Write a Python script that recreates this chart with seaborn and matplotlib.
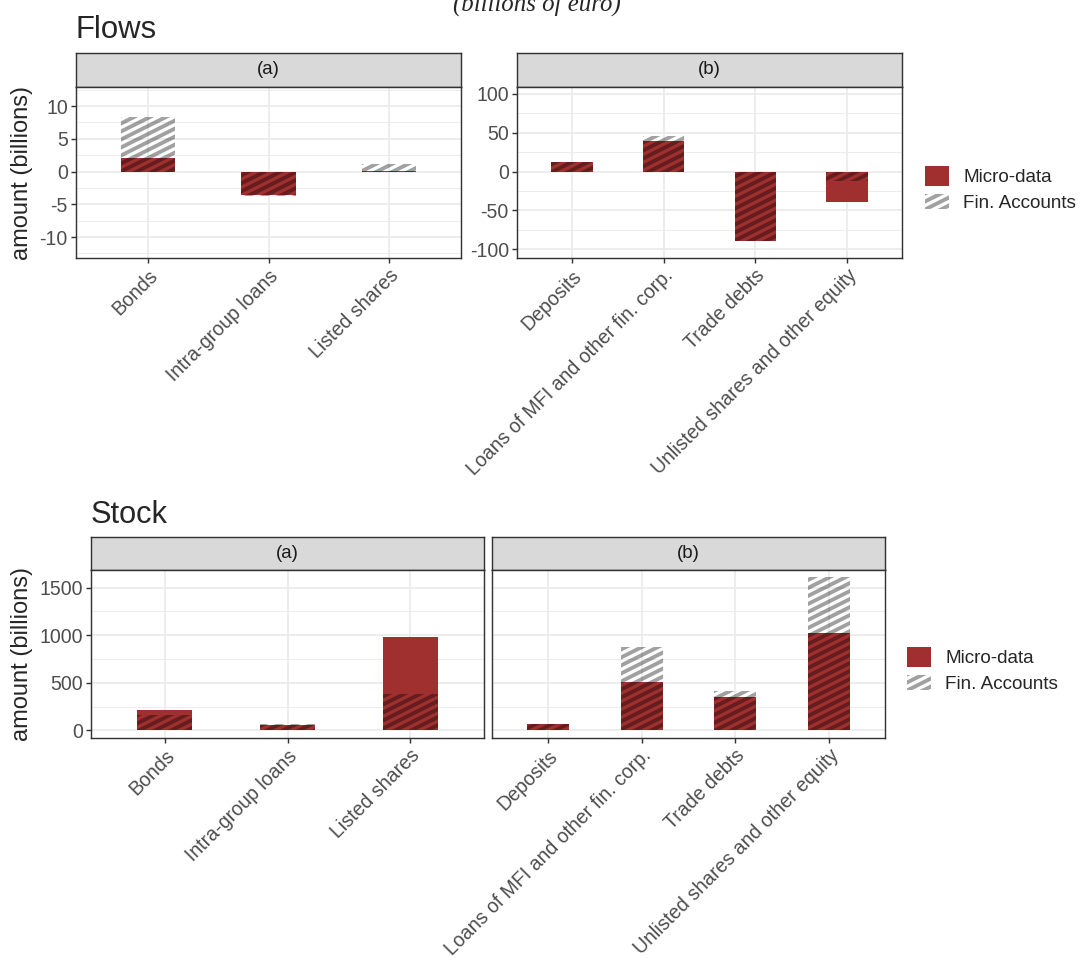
import numpy as np
import matplotlib
matplotlib.use("Agg")
import matplotlib.pyplot as plt
from matplotlib import hatch as mhatch
from matplotlib.path import Path
from matplotlib.patches import Patch, Rectangle
from matplotlib.legend_handler import HandlerPatch
import seaborn as sns

# categories
cats_a = ["Bonds", "Intra-group loans", "Listed shares"]
cats_b = ["Deposits", "Loans of MFI and other fin. corp.", "Trade debts",
          "Unlisted shares and other equity"]

# flows (billions)
flow_micro_a = [2.0, -3.6, 0.15]
flow_fin_a = [8.3, -3.7, 1.2]
flow_micro_b = [12.5, 39, -89, -39.5]
flow_fin_b = [12.5, 46, -89, -12]

# stocks (billions)
stock_micro_a = [211, 60, 983]
stock_fin_a = [158, 62, 379]
stock_micro_b = [70, 513, 348, 1026]
stock_fin_b = [70, 878, 418, 1616]

series_labels = ["Micro-data", "Fin. Accounts"]

RED = "#A0302F"
STRIPE = (0, 0, 0, 0.37)
GRID = "#EBEBEB"
DARK = "#333333"
HATCH = "/"


# shallow stripes (slope 1/2) instead of the 45 degree "/" hatch
class ShallowStripes(mhatch.HatchPatternBase):
    def __init__(self, hatch, density):
        self.offsets = np.arange(-8, 17) / 16.0
        self.num_vertices = 2 * len(self.offsets) if "/" in hatch else 0

    def set_vertices_and_codes(self, vertices, codes):
        vertices[0::2, 0] = 0.0
        vertices[0::2, 1] = self.offsets
        vertices[1::2, 0] = 1.0
        vertices[1::2, 1] = self.offsets + 0.5
        codes[0::2] = Path.MOVETO
        codes[1::2] = Path.LINETO


mhatch._hatch_types[mhatch._hatch_types.index(mhatch.NorthEastHatch)] = ShallowStripes

sns.set_theme(style="white")
plt.rcParams["font.family"] = ["Liberation Sans", "DejaVu Sans"]
plt.rcParams["hatch.linewidth"] = 2.2
plt.rcParams["axes.unicode_minus"] = False

W, H = 1088, 960
fig = plt.figure(figsize=(8.5, 7.5), dpi=128)


def rect(x0, y0, x1, y1):
    return [x0 / W, 1 - y1 / H, (x1 - x0) / W, (y1 - y0) / H]


def panel(x0, x1, strip_top, plot_top, plot_bot, cats, micro, fin, label,
          ylim, yticks, yminor, show_y=True):
    sax = fig.add_axes(rect(x0, strip_top, x1, plot_top))
    sax.set_facecolor("#D9D9D9")
    sax.set_xticks([])
    sax.set_yticks([])
    for s in sax.spines.values():
        s.set_color(DARK)
        s.set_linewidth(0.8)
    sax.text(0.5, 0.5, label, ha="center", va="center", fontsize=10.5,
             color="#1A1A1A", transform=sax.transAxes)

    ax = fig.add_axes(rect(x0, plot_top, x1, plot_bot))
    sns.barplot(x=cats, y=micro, order=cats, color=RED, saturation=1,
                width=0.45, linewidth=0, ax=ax)
    sns.barplot(x=cats, y=fin, order=cats, color="white", saturation=1,
                width=0.45, linewidth=0, ax=ax)
    for p in ax.containers[-1]:
        p.set_facecolor("none")
        p.set_edgecolor(STRIPE)
        p.set_hatch(HATCH)
        p.set_linewidth(0)

    ax.set_xlim(-0.6, len(cats) - 0.4)
    ax.set_ylim(*ylim)
    ax.set_yticks(yticks)
    ax.set_yticks(yminor, minor=True)
    ax.set_xticks(range(len(cats)))
    ax.set_xticklabels(cats, rotation=45, ha="right", va="top",
                       rotation_mode="anchor")
    ax.set_xlabel("")
    ax.set_ylabel("")
    ax.set_axisbelow(True)
    ax.grid(which="major", color=GRID, linewidth=1.0)
    ax.grid(which="minor", axis="y", color=GRID, linewidth=0.5)
    for s in ax.spines.values():
        s.set_color(DARK)
        s.set_linewidth(0.8)
    ax.tick_params(which="major", length=2.6, width=0.8, color=DARK, pad=2,
                   labelsize=11, labelcolor="#4D4D4D", bottom=True,
                   left=show_y, labelleft=show_y)
    ax.tick_params(which="minor", length=0)
    return ax


# ---- Flows ----
panel(76, 461, 53, 87, 258, cats_a, flow_micro_a, flow_fin_a, "(a)",
      (-13.2, 12.9), [-10, -5, 0, 5, 10], [-12.5, -7.5, -2.5, 2.5, 7.5, 12.5])
panel(517, 902, 53, 87, 258, cats_b, flow_micro_b, flow_fin_b, "(b)",
      (-111, 108.5), [-100, -50, 0, 50, 100], [-75, -25, 25, 75])

# ---- Stock ----
panel(91, 484, 537, 570, 738, cats_a, stock_micro_a, stock_fin_a, "(a)",
      (-81, 1686), [0, 500, 1000, 1500], [250, 750, 1250])
panel(492, 885, 537, 570, 738, cats_b, stock_micro_b, stock_fin_b, "(b)",
      (-81, 1686), [0, 500, 1000, 1500], [250, 750, 1250], show_y=False)

# titles and labels
fig.text(537 / W, 1 - 11 / H, "(billions of euro)", ha="center", va="baseline",
         fontsize=14, style="italic", family="Liberation Serif")
fig.text(76 / W, 1 - 30 / H, "Flows", fontsize=17.5, va="center")
fig.text(91 / W, 1 - 515 / H, "Stock", fontsize=17.3, va="center")
fig.text(22 / W, 1 - 173 / H, "amount (billions)", rotation=90, fontsize=13.3,
         ha="center", va="center")
fig.text(22 / W, 1 - 654 / H, "amount (billions)", rotation=90, fontsize=13.3,
         ha="center", va="center")


def short_key(legend, orig_handle, xdescent, ydescent, width, height, fontsize):
    return Rectangle((-xdescent, -ydescent + 0.1 * height), width, 0.75 * height)


def add_legend(x, y):
    handles = [Patch(facecolor=RED, edgecolor="none"),
               Patch(facecolor="none", edgecolor=STRIPE, hatch=HATCH, linewidth=0)]
    fig.legend(handles, series_labels, loc="upper left",
               bbox_to_anchor=(x / W, 1 - y / H), frameon=False, fontsize=10.6,
               handlelength=1.28, handleheight=1.28, handletextpad=0.75,
               labelspacing=0.25, borderpad=0, borderaxespad=0,
               handler_map={handles[1]: HandlerPatch(patch_func=short_key)})


add_legend(925, 166)
add_legend(907, 647)

fig.savefig("out.png", dpi=128)
